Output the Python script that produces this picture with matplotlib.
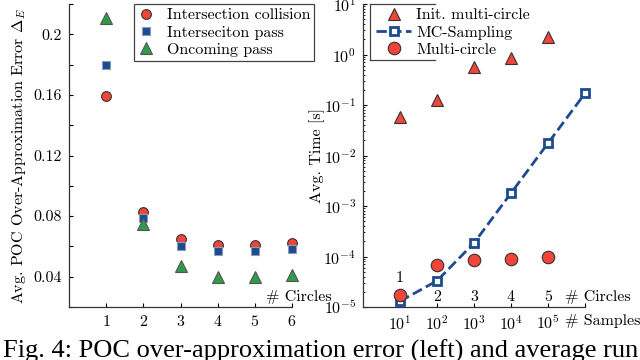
import matplotlib
matplotlib.use('Agg')
import matplotlib.pyplot as plt
from matplotlib.lines import Line2D
from matplotlib.ticker import LogLocator, NullFormatter

plt.rcParams['font.family'] = ['cmr10', 'DejaVu Serif']
plt.rcParams['mathtext.fontset'] = 'cm'
plt.rcParams['axes.formatter.use_mathtext'] = True
plt.rcParams['axes.unicode_minus'] = False

# left plot: POC over-approximation error
circles = [1, 2, 3, 4, 5, 6]
err_collision = [0.159, 0.083, 0.065, 0.061, 0.061, 0.062]
err_pass = [0.180, 0.079, 0.060, 0.057, 0.057, 0.058]
err_oncoming = [0.211, 0.075, 0.047, 0.040, 0.040, 0.041]

# right plot: runtime
circ_idx = [1, 2, 3, 4, 5]
t_init = [0.058, 0.126, 0.56, 0.85, 2.2]
mc_idx = [1, 2, 3, 4, 5, 6]
t_mc = [1.3e-5, 3.3e-5, 1.85e-4, 1.8e-3, 0.0175, 0.17]
t_multi = [1.7e-5, 6.8e-5, 8.5e-5, 8.8e-5, 9.8e-5]
sample_labels = ['$10^1$', '$10^2$', '$10^3$', '$10^4$', '$10^5$', '']
circle_labels = ['1', '2', '3', '4', '5']

RED = '#f2453a'
BLUE = '#1c4b8f'
GREEN = '#2f9a4c'
EDGE = '#333333'
FS = 11.5

fig = plt.figure(figsize=(6.4, 3.6), dpi=100)
ax1 = fig.add_axes([69/640, 1-307/360, (292-69)/640, 303/360])
ax2 = fig.add_axes([363/640, 1-307/360, (585-363)/640, 303/360])

for ax in (ax1, ax2):
    ax.spines['top'].set_visible(False)
    ax.spines['right'].set_visible(False)
    for s in ('left', 'bottom'):
        ax.spines[s].set_color('#333333')
        ax.spines[s].set_linewidth(0.9)
    ax.tick_params(direction='in', length=3, labelsize=FS, width=0.8, pad=5)

# ---- left
ax1.plot(circles, err_collision, 'o', ms=7, mfc=RED, mec=EDGE, mew=0.8,
         label='Intersection collision', clip_on=False, zorder=3)
ax1.plot(circles, err_pass, 's', ms=6, mfc=BLUE, mec='#8a9bb5', mew=0.8,
         label='Interseciton pass', clip_on=False, zorder=3)
ax1.plot(circles, err_oncoming, '^', ms=8, mfc=GREEN, mec='#555555', mew=0.8,
         label='Oncoming pass', clip_on=False, zorder=3)
ax1.set_xlim(0, 6)
ax1.set_ylim(0.02, 0.22)
ax1.set_xticks(circles)
yt = [0.02 * i for i in range(1, 12)]
ax1.set_yticks(yt)
ax1.set_yticklabels(['%g' % round(v, 2) if i % 2 == 1 else '' for i, v in enumerate(yt)])
ax1.set_ylabel(r'Avg. POC Over-Approximation Error $\Delta_E$', fontsize=FS, labelpad=4)
ax1.text(5.3, 0.0265, '# Circles', fontsize=FS, va='center', ha='left', clip_on=False)
leg1 = ax1.legend(loc='upper left', bbox_to_anchor=(134/640, 1-4/360),
                  bbox_transform=fig.transFigure, fontsize=FS, fancybox=False,
                  edgecolor='#444444', framealpha=1, handlelength=1.0,
                  handletextpad=0.8, borderpad=0.25, labelspacing=0.2, borderaxespad=0)
leg1.get_frame().set_linewidth(0.9)

# ---- right
ax2.set_yscale('log')
ax2.plot(circ_idx, t_init, '^', ms=8, mfc=RED, mec=EDGE, mew=0.8,
         label='Init. multi-circle', clip_on=False, zorder=3)
ax2.plot(mc_idx, t_mc, '--', color=BLUE, lw=2, marker='s', ms=6, mfc='white',
         mec=BLUE, mew=2, label='MC-Sampling', clip_on=False, zorder=3)
ax2.plot(circ_idx, t_multi, 'o', ms=9, mfc=RED, mec=EDGE, mew=0.8,
         label='Multi-circle', clip_on=False, zorder=4)
ax2.set_xlim(0, 6)
ax2.set_ylim(1e-5, 10)
ax2.set_xticks(mc_idx)
ax2.set_xticklabels(sample_labels)
ax2.set_yticks([1e-5, 1e-4, 1e-3, 1e-2, 1e-1, 1, 10])
ax2.set_yticklabels(['$10^{-5}$', '$10^{-4}$', '$10^{-3}$', '$10^{-2}$',
                     '$10^{-1}$', '$10^{0}$', '$10^{1}$'])
ax2.yaxis.set_minor_locator(LogLocator(base=10, subs=range(2, 10)))
ax2.yaxis.set_minor_formatter(NullFormatter())
ax2.tick_params(axis='y', which='minor', direction='in', length=1.5, width=0.6)
ax2.set_ylabel('Avg. Time [s]', fontsize=FS, labelpad=-1)
for i, (x, lab) in enumerate(zip(circ_idx, circle_labels)):
    y = 3.7e-5 if i == 0 else 1.6e-5
    ax2.text(x, y, lab, fontsize=FS, ha='center', va='center')
ax2.text(5.45, 1.6e-5, '# Circles', fontsize=FS, va='center', ha='left', clip_on=False)
ax2.text(5.45, -0.045, '# Samples', fontsize=FS, va='center', ha='left',
         transform=ax2.get_xaxis_transform(), clip_on=False)
leg2 = ax2.legend(loc='upper left', bbox_to_anchor=(372/640, 1-4/360),
                  bbox_transform=fig.transFigure, fontsize=FS, frameon=False,
                  handlelength=2.2, handletextpad=0.3, borderpad=0.25,
                  labelspacing=0.2, borderaxespad=0)
# partial legend frame as in the original
x0, x1f, y0, y1f = 370/640, 435/640, 1-60/360, 1-4/360
for xs, ys in (([x0, x1f], [y1f, y1f]), ([x0, x0], [y0, y1f]), ([x0, x1f], [y0, y0])):
    fig.add_artist(Line2D(xs, ys, color='#444444', lw=0.9, transform=fig.transFigure))

fig.text(3/640, 1-340/360, 'Fig. 4: POC over-approximation error (left) and average run',
         fontsize=19, family=['Liberation Serif', 'DejaVu Serif'], va='top', ha='left')

fig.savefig('out.png', dpi=100)
